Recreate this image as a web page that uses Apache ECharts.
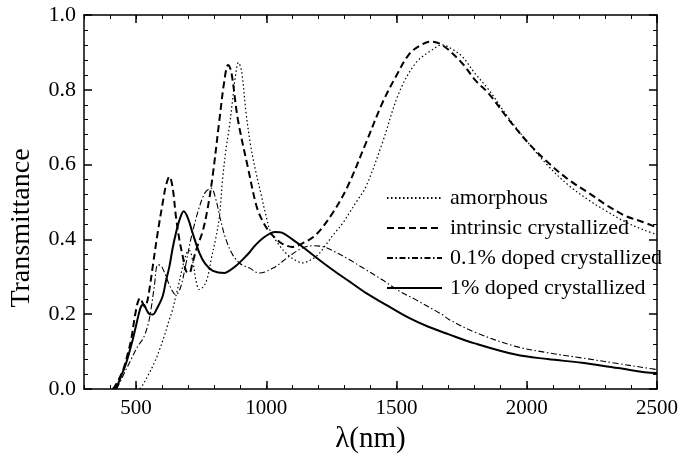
<!DOCTYPE html>
<html>
<head>
<meta charset="utf-8">
<script src="https://cdn.jsdelivr.net/npm/echarts@6/dist/echarts.min.js"></script>
<style>
html,body{margin:0;padding:0;background:#fff;}
#chart{width:681px;height:460px;}
</style>
</head>
<body>
<div id="chart"></div>
<script>
// ---- data (wavelength nm, transmittance) ----
const seriesNames = ['amorphous', 'intrinsic crystallized', '0.1% doped crystallized', '1% doped crystallized'];

const amorphous = [
  [515,0],[525,0.01],[545,0.035],[570,0.07],[590,0.105],[608,0.141],[625,0.18],[640,0.212],[660,0.27],[680,0.33],
  [695,0.365],[705,0.37],[718,0.34],[730,0.29],[743,0.266],[760,0.275],[775,0.3],[788,0.346],[805,0.4],[820,0.461],
  [832,0.56],[845,0.64],[858,0.7],[870,0.77],[882,0.84],[893,0.873],[905,0.85],[922,0.74],[940,0.65],[960,0.58],
  [980,0.52],[1000,0.46],[1017,0.42],[1049,0.385],[1080,0.36],[1110,0.345],[1139,0.337],[1170,0.345],[1200,0.36],
  [1228,0.385],[1260,0.415],[1290,0.44],[1318,0.47],[1350,0.505],[1382,0.54],[1445,0.657],[1509,0.791],[1573,0.871],
  [1637,0.907],[1675,0.92],[1710,0.91],[1752,0.889],[1800,0.845],[1854,0.80],[1930,0.725],[2007,0.657],[2084,0.595],
  [2160,0.545],[2238,0.505],[2300,0.478],[2378,0.447],[2450,0.425],[2500,0.413]
];

const intrinsic = [
  [410,0],[417,0.005],[440,0.035],[455,0.061],[470,0.1],[481,0.132],[492,0.18],[500,0.212],[508,0.235],[516,0.243],
  [524,0.232],[533,0.22],[542,0.232],[552,0.27],[564,0.328],[583,0.418],[602,0.497],[615,0.545],[628,0.568],[640,0.54],
  [653,0.461],[666,0.4],[679,0.355],[692,0.315],[704,0.31],[716,0.335],[732,0.375],[755,0.42],[774,0.48],[794,0.57],
  [820,0.72],[838,0.82],[853,0.866],[865,0.85],[891,0.72],[930,0.59],[962,0.49],[985,0.45],[1011,0.421],[1040,0.40],
  [1062,0.388],[1100,0.38],[1140,0.39],[1190,0.412],[1254,0.47],[1311,0.54],[1382,0.657],[1445,0.764],[1497,0.835],
  [1548,0.895],[1590,0.918],[1630,0.929],[1675,0.92],[1752,0.871],[1803,0.825],[1854,0.79],[1931,0.72],[2007,0.657],
  [2084,0.604],[2160,0.56],[2238,0.524],[2310,0.49],[2378,0.463],[2440,0.448],[2500,0.432]
];

const doped01 = [
  [425,0],[440,0.02],[455,0.043],[481,0.079],[506,0.114],[527,0.135],[545,0.17],[557,0.212],[570,0.275],[583,0.332],
  [595,0.33],[610,0.31],[630,0.275],[653,0.252],[670,0.27],[690,0.33],[710,0.4],[740,0.48],[765,0.525],[788,0.537],
  [805,0.51],[825,0.45],[845,0.40],[870,0.36],[900,0.335],[934,0.324],[973,0.31],[1030,0.325],[1088,0.355],
  [1139,0.377],[1180,0.383],[1215,0.381],[1260,0.368],[1318,0.346],[1380,0.32],[1445,0.292],[1510,0.262],
  [1573,0.239],[1675,0.199],[1701,0.186],[1800,0.152],[1957,0.114],[2080,0.097],[2212,0.083],[2350,0.068],
  [2480,0.054],[2500,0.052]
];

const doped1 = [
  [418,0],[425,0.005],[440,0.03],[462,0.07],[487,0.132],[500,0.17],[512,0.205],[520,0.222],[529,0.226],[540,0.212],
  [552,0.2],[564,0.199],[580,0.215],[602,0.248],[615,0.29],[628,0.328],[640,0.375],[653,0.417],[668,0.455],[683,0.475],
  [700,0.455],[717,0.417],[743,0.364],[765,0.335],[795,0.316],[839,0.31],[860,0.317],[885,0.33],[909,0.346],
  [935,0.365],[960,0.386],[990,0.405],[1017,0.417],[1036,0.42],[1060,0.418],[1100,0.4],[1145,0.377],[1200,0.347],
  [1254,0.319],[1320,0.287],[1382,0.257],[1460,0.225],[1548,0.19],[1620,0.167],[1701,0.146],[1800,0.122],
  [1957,0.092],[2080,0.08],[2212,0.07],[2350,0.056],[2493,0.043],[2500,0.043]
];

const xMajorTicks = [500, 1000, 1500, 2000, 2500];
const xLabelValues = [500, 1000, 1500, 2000, 2500];
const xRange = [300, 2500];
const yRange = [0, 1];

// ---- chart ----
const FONT = "'Liberation Serif', 'Times New Roman', serif";
const chart = echarts.init(document.getElementById('chart'));

function xAx(position, major, withLabel) {
  return {
    type: 'value', position: position, min: xRange[0], max: xRange[1], interval: 100,
    axisLine: { show: !major, lineStyle: { color: '#000', width: 1.5 } },
    axisTick: major ? { show: true, inside: true, length: 8, customValues: xMajorTicks, lineStyle: { color: '#000', width: 1.5 } }
                    : { show: true, inside: true, length: 4, lineStyle: { color: '#000', width: 1 } },
    axisLabel: withLabel ? {
      show: true, color: '#000', fontFamily: FONT, fontSize: 21, margin: 9,
      formatter: function (v) { return xLabelValues.indexOf(Math.round(v)) >= 0 ? String(Math.round(v)) : ''; }
    } : { show: false },
    splitLine: { show: false }
  };
}

function yAx(position, withLabel) {
  return {
    type: 'value', position: position, min: yRange[0], max: yRange[1], interval: 0.2,
    axisLine: { show: true, lineStyle: { color: '#000', width: 1.5 } },
    axisTick: { show: true, inside: true, length: 8, lineStyle: { color: '#000', width: 1.5 } },
    minorTick: { show: true, splitNumber: 5, length: 4, lineStyle: { color: '#000', width: 1 } },
    axisLabel: withLabel ? { show: true, color: '#000', fontFamily: FONT, fontSize: 22, margin: 8,
      formatter: function (v) { return v.toFixed(1); } } : { show: false },
    splitLine: { show: false }
  };
}

const xBottom = xAx('bottom', false, true);
xBottom.name = 'λ(nm)';
xBottom.nameLocation = 'middle';
xBottom.nameGap = 36;
xBottom.nameTextStyle = { color: '#000', fontFamily: FONT, fontSize: 29 };

const styles = [
  { type: [1.5, 2.5], width: 1.2 },
  { type: [7, 4], width: 2 },
  { type: [6, 2.5, 1.5, 2.5], width: 1.1 },
  { type: 'solid', width: 2 }
];
const dataSets = [amorphous, intrinsic, doped01, doped1];

const series = dataSets.map(function (d, i) {
  return {
    name: seriesNames[i], type: 'line', data: d, xAxisIndex: 0, yAxisIndex: 0,
    symbol: 'none', smooth: 0.35,
    lineStyle: { color: '#000', width: styles[i].width, type: styles[i].type },
    itemStyle: { color: '#000' },
    z: 3
  };
});

chart.setOption({
  backgroundColor: '#fff',
  animation: false,
  grid: { left: 84, right: 23, top: 15, bottom: 71, containLabel: false },
  xAxis: [xBottom, xAx('bottom', true, false), xAx('top', false, false), xAx('top', true, false)],
  yAxis: [yAx('left', true), yAx('right', false)],
  legend: {
    orient: 'vertical', left: 381, top: 182,
    itemWidth: 55, itemHeight: 14, itemGap: 8,
    itemStyle: { opacity: 0 },
    textStyle: { color: '#000', fontFamily: FONT, fontSize: 22, padding: [0, 0, 0, 3] },
    data: seriesNames
  },
  graphic: [{
    type: 'text', x: 22, y: 228, rotation: Math.PI / 2,
    style: { text: 'Transmittance', fill: '#000', font: '28px ' + FONT, textAlign: 'center', textVerticalAlign: 'middle' }
  }],
  series: series
});
</script>
</body>
</html>
